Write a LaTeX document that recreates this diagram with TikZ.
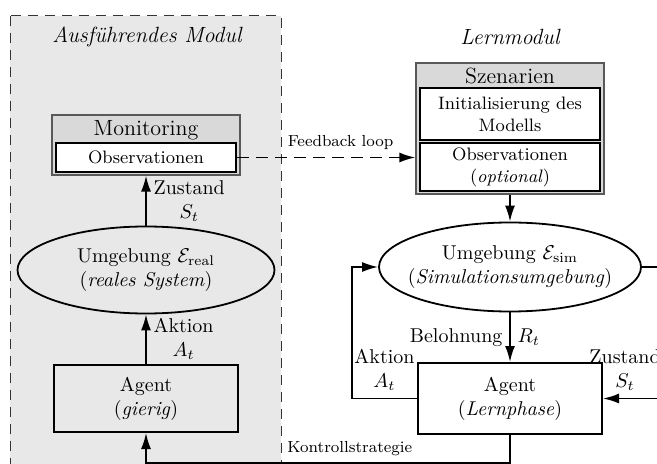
\documentclass[tikz,border=0pt]{standalone}
\usetikzlibrary{arrows.meta,shapes.geometric}

\newcommand\hdrfont{\fontsize{11}{13}\selectfont}

\tikzset{
  modframe/.style={draw=black!80, dash pattern=on 5pt off 3.5pt, fill=gray!18, line width=0.5pt},
  modtitle/.style={font=\hdrfont\itshape},
  modbox/.style={draw=gray!70!black, fill=gray!30, line width=0.6pt, minimum width=94pt},
  subbox/.style={draw, fill=white, line width=1.2pt, minimum width=90pt, align=center, font=\small, inner sep=1pt},
  agentbox/.style={draw, line width=1pt, minimum width=92pt, align=center},
  envnode/.style={ellipse, draw, line width=0.9pt, align=center, inner xsep=-12pt, inner ysep=0pt},
  flow/.style={-{Latex[length=8pt,width=5pt]}, line width=0.9pt},
  smalllabel/.style={font=\footnotesize},
}

\begin{document}
\begin{tikzpicture}[x=0.5pt, y=-0.5pt]
  \useasboundingbox (0,0) rectangle (657,464);
  \clip (0,0) rectangle (657,464);

  % Ausfuehrendes Modul
  \draw[modframe] (10,16) rectangle (281,490);
  \node[modtitle] (exectitle) at (147,37) {Ausführendes Modul};

  \node[modbox, minimum height=30pt] (mon) at (146,145) {};
  \node[font=\hdrfont] (montitle) at (146,130) {Monitoring};
  \node[subbox, minimum height=14.5pt] (monobs) at (146,157.5) {Observationen};

  \node[envnode, minimum width=128.5pt, minimum height=43.5pt] (realenv) at (146,270)
    {Umgebung $\mathcal{E}_{\mathrm{real}}$\\(\textit{reales System})};

  \node[agentbox, minimum height=33.5pt] (agentx) at (146,398.5) {Agent\\(\textit{gierig})};

  % Lernmodul
  \node[modtitle] (learntitle) at (510,37) {Lernmodul};

  \node[modbox, minimum height=65.5pt] (szen) at (510,128.5) {};
  \node[font=\hdrfont] (szentitle) at (510,76) {Szenarien};
  \node[subbox, minimum height=26pt] (szeninit) at (510,114) {Initialisierung des\\Modells};
  \node[subbox, minimum height=24pt] (szenobs) at (510,167) {Observationen\\(\textit{optional})};

  \node[envnode, minimum width=131pt, minimum height=44.5pt] (simenv) at (510,267)
    {Umgebung $\mathcal{E}_{\mathrm{sim}}$\\(\textit{Simulationsumgebung})};

  \node[agentbox, minimum height=35.5pt] (agentl) at (510,398.5) {Agent\\(\textit{Lernphase})};

  % Verbindungen
  \draw[flow] (realenv.north) -- (mon.south)
    node[midway, right, align=center] {Zustand\\$S_t$};
  \draw[flow] (agentx.north) -- (realenv.south)
    node[midway, right, align=center] {Aktion\\$A_t$};
  \draw[flow, dash pattern=on 6pt off 3.5pt] (monobs.east) -- (monobs.east -| szen.west)
    node[smalllabel, pos=0.58, above] {Feedback loop};
  \draw[flow] (szen.south) -- (simenv.north);
  \draw[flow] (simenv.south) -- (agentl.north)
    node[midway, left] {Belohnung}
    node[midway, right] {$R_t$};
  \draw[flow] (agentl.west) -- ++(-65,0)
    node[midway, above, align=center] {Aktion\\$A_t$}
    |- (simenv.west);
  \draw[flow] (simenv.east) -- ++(40,0) |- (agentl.east)
    node[pos=0.86, above, align=center] {Zustand\\$S_t$};
  \draw[flow] (agentl.south) -- ++(0,28) -| (agentx.south)
    node[smalllabel, pos=0.22, above] {Kontrollstrategie};
\end{tikzpicture}
\end{document}
